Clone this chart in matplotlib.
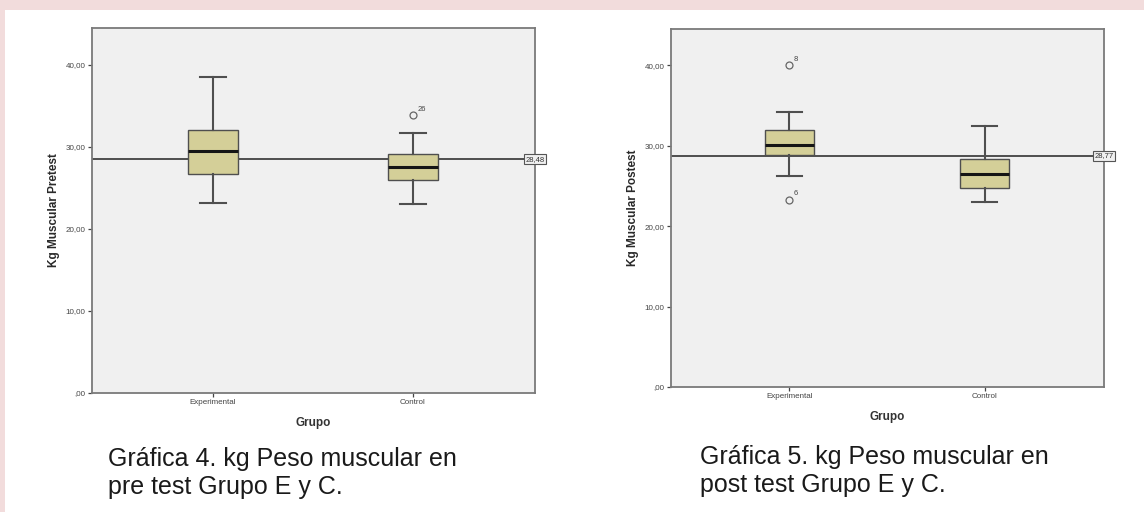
import matplotlib.pyplot as plt

plt.rcParams['font.family'] = ['Liberation Sans', 'DejaVu Sans']

# Datos (kg de masa muscular)
grupos = ['Experimental', 'Control']

# pretest: [bigote inf, Q1, mediana, Q3, bigote sup]
pre_exp = [23.2, 26.7, 29.5, 32.1, 38.5]
pre_con = [23.1, 26.0, 27.5, 29.2, 31.7]
pre_out_exp = []
pre_out_con = [33.9]
pre_out_lab_exp = []
pre_out_lab_con = ['26']
pre_media = 28.48

# postest
post_exp = [26.2, 28.9, 30.1, 31.9, 34.2]
post_con = [23.0, 24.8, 26.5, 28.3, 32.5]
post_out_exp = [40.0, 23.3]
post_out_con = []
post_out_lab_exp = ['8', '6']
post_out_lab_con = []
post_media = 28.77

yticks = [0, 10, 20, 30, 40]
ytick_lab = [',00', '10,00', '20,00', '30,00', '40,00']

caja = '#d4cf98'
borde = '#4f4f4f'


def stats(v, out, lab):
    return dict(whislo=v[0], q1=v[1], med=v[2], q3=v[3], whishi=v[4],
                fliers=out, label=lab)


def dibujar(ax, datos, media, ylabel):
    (e, eo, el), (c, co, cl) = datos
    st = [stats(e, eo, grupos[0]), stats(c, co, grupos[1])]
    ax.bxp(st, positions=[0, 1], widths=0.25, patch_artist=True,
           boxprops=dict(facecolor=caja, edgecolor=borde, linewidth=1.0),
           medianprops=dict(color='#151515', linewidth=2.2),
           whiskerprops=dict(color=borde, linewidth=1.5),
           capprops=dict(color=borde, linewidth=1.5),
           capwidths=0.13,
           flierprops=dict(marker='o', markersize=5, markerfacecolor='none',
                           markeredgecolor='#666666', markeredgewidth=0.9))
    for pos, vals, labs in [(0, eo, el), (1, co, cl)]:
        for v, t in zip(vals, labs):
            ax.annotate(t, (pos, v), xytext=(3, 3), textcoords='offset points',
                        fontsize=5.5, color='#444444')
    ax.axhline(media, color='#333333', linewidth=1.2, zorder=1)
    ax.text(1.0, media, f'{media:.2f}'.replace('.', ','), transform=ax.get_yaxis_transform(),
            ha='center', va='center', fontsize=5.5, color='#333333', clip_on=False,
            bbox=dict(boxstyle='square,pad=0.2', facecolor='#f0f0f0', edgecolor='#555555', linewidth=0.8))
    ax.set_xlim(-0.605, 1.61)
    ax.set_ylim(0, 44.5)
    ax.set_yticks(yticks)
    ax.set_yticklabels(ytick_lab)
    ax.set_facecolor('#f0f0f0')
    for s in ax.spines.values():
        s.set_color('#7a7a7a')
        s.set_linewidth(1.3)
    ax.tick_params(axis='both', labelsize=5.8, colors='#444444', length=3, width=0.9,
                   labelcolor='#444444', pad=1.5)
    ax.set_xlabel('Grupo', fontsize=8.5, fontweight='bold', color='#333333', labelpad=8)
    ax.set_ylabel(ylabel, fontsize=8.5, fontweight='bold', color='#2a2a2a', labelpad=4)


fig = plt.figure(figsize=(11.44, 5.12), dpi=100)
fig.patch.set_facecolor('#f2dcdc')
fig.patches.append(plt.Rectangle((5 / 1144, 0), 1, 1 - 10 / 512, transform=fig.transFigure,
                                 facecolor='white', edgecolor='none', zorder=-1))

ax1 = fig.add_axes([0.0804, 0.2324, 0.3872, 0.7129])
dibujar(ax1, [(pre_exp, pre_out_exp, pre_out_lab_exp), (pre_con, pre_out_con, pre_out_lab_con)],
        pre_media, 'Kg Muscular Pretest')

ax2 = fig.add_axes([0.5865, 0.2441, 0.3785, 0.6992])
dibujar(ax2, [(post_exp, post_out_exp, post_out_lab_exp), (post_con, post_out_con, post_out_lab_con)],
        post_media, 'Kg Muscular Postest')

fig.text(108 / 1144, 1 - 447 / 512, 'Gráfica 4. kg Peso muscular en\npre test Grupo E y C.',
         fontsize=18, va='top', ha='left', color='#1a1a1a', linespacing=1.22)
fig.text(700 / 1144, 1 - 445 / 512, 'Gráfica 5. kg Peso muscular en\npost test Grupo E y C.',
         fontsize=18, va='top', ha='left', color='#1a1a1a', linespacing=1.22)

fig.savefig('out.png', dpi=100)
